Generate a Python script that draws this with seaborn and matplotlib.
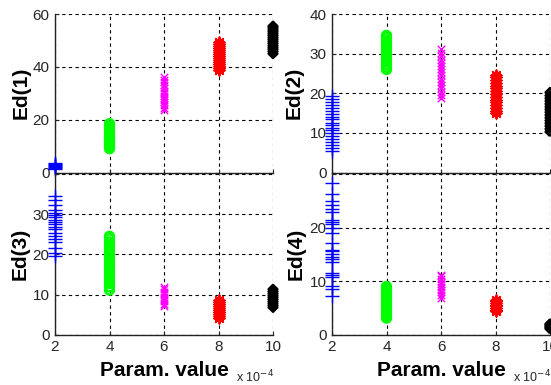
import matplotlib
matplotlib.use("Agg")
import matplotlib.pyplot as plt
import pandas as pd
import seaborn as sns

# ---------------- data ----------------
params = [2, 4, 6, 8, 10]
xtick_labels = ["2", "4", "6", "8", "10"]
panel_labels = ["Ed(1)", "Ed(2)", "Ed(3)", "Ed(4)"]

ed1_values = [
    [1.3, 1.7, 2.1, 2.5, 2.9, 3.3, 3.6],
    [9.0, 9.5, 10.2, 10.8, 11.5, 12.0, 12.6, 13.3, 14.0, 14.8, 15.5, 16.2, 17.0, 17.6, 18.5],
    [23.8, 24.6, 25.5, 26.8, 27.5, 28.3, 29.0, 30.2, 31.0, 32.1, 33.0, 34.2, 35.0, 36.2],
    [38.8, 39.5, 40.3, 41.0, 41.8, 42.5, 43.2, 44.0, 44.8, 45.5, 46.3, 47.0, 47.8, 48.6, 49.4],
    [45.0, 45.8, 46.6, 47.3, 48.0, 48.8, 49.5, 50.3, 51.0, 51.8, 52.5, 53.3, 54.0, 54.8, 55.4],
]
ed2_values = [
    [5.5, 6.3, 7.0, 7.8, 8.5, 9.2, 10.0, 10.6, 11.3, 12.0, 12.6, 13.4, 14.1, 14.8, 15.5, 16.2, 17.0, 17.8, 18.6, 19.4],
    [26.0, 26.6, 27.3, 28.0, 28.6, 29.3, 30.0, 30.7, 31.3, 32.0, 32.7, 33.3, 34.0, 34.6],
    [18.8, 19.6, 20.4, 21.3, 22.0, 22.8, 23.6, 24.5, 25.3, 26.0, 26.9, 27.7, 28.5, 29.3, 30.2, 31.2],
    [14.9, 15.6, 16.3, 17.0, 17.7, 18.4, 19.1, 19.8, 20.5, 21.2, 21.9, 22.6, 23.3, 24.0, 24.6],
    [10.3, 11.0, 11.7, 12.4, 13.1, 13.8, 14.5, 15.2, 15.9, 16.6, 17.3, 18.0, 18.7, 19.4, 20.2],
]
ed3_values = [
    [19.5, 20.3, 21.6, 23.0, 23.8, 24.5, 25.4, 26.2, 26.8, 27.5, 28.0, 28.6, 29.2, 29.8, 30.4, 31.0, 32.2, 33.5, 34.4],
    [11.1, 11.9, 12.7, 13.5, 14.3, 15.1, 15.9, 16.7, 17.5, 18.3, 19.1, 19.9, 20.7, 21.5, 22.3, 23.1, 23.9, 24.5],
    [7.1, 7.7, 8.3, 8.9, 9.5, 10.1, 10.7, 11.3, 11.9],
    [4.2, 4.7, 5.2, 5.7, 6.2, 6.7, 7.2, 7.7, 8.2, 8.6],
    [6.8, 7.3, 7.8, 8.3, 8.8, 9.3, 9.8, 10.3, 10.8, 11.3],
]
ed4_values = [
    [7.3, 8.5, 9.1, 10.8, 11.2, 11.6, 13.5, 14.1, 14.5, 15.0, 15.6, 15.9, 17.2, 18.9, 20.0, 20.6,
     21.0, 21.5, 22.9, 23.5, 24.3, 25.0, 26.2, 28.3],
    [3.1, 3.5, 3.9, 4.3, 4.7, 5.1, 5.5, 5.9, 6.3, 6.7, 7.1, 7.5, 7.9, 8.3, 8.7, 9.0],
    [6.9, 7.4, 7.9, 8.4, 8.9, 9.4, 9.9, 10.4, 10.9, 11.2],
    [4.4, 4.7, 5.0, 5.3, 5.6, 5.9, 6.2, 6.5],
    [1.1, 1.3, 1.5, 1.7, 1.9, 2.0],
]
all_values = [ed1_values, ed2_values, ed3_values, ed4_values]
ylims = [(0, 60), (0, 40), (0, 40), (0, 30)]
yticks = [[0, 20, 40, 60], [0, 10, 20, 30, 40], [0, 10, 20, 30, 40], [0, 10, 20, 30]]
ytick_labels = [["0", "20", "40", "60"], ["0", "10", "20", "30", "40"],
                ["0", "10", "20", "30", ""], ["0", "10", "20", ""]]

# ---------------- style ----------------
colors = ["#0000ff", "#00ff00", "#ff00ff", "#ff0000", "#000000"]
markers = ["+", "o", "x", (8, 2, 0), "D"]
sizes = [90, 40, 28, 55, 20]
widths = [1.0, 1.8, 1.0, 1.4, 1.8]
filled = [False, True, False, False, True]

sns.set_theme(style="white")
plt.rcParams["font.family"] = ["Liberation Sans", "DejaVu Sans"]
text_col = "#262626"

fig = plt.figure(figsize=(5.51, 3.85), dpi=100)
W, H = 551.0, 385.0
rects = [
    (55, 14, 218, 158.5),
    (332, 14, 218, 158.5),
    (55, 174, 218, 160.7),
    (332, 174, 218, 160.7),
]
ylabel_x = [-0.11, -0.13, -0.115, -0.12]

for i, (px, py, pw, ph) in enumerate(rects):
    ax = fig.add_axes([px / W, 1 - (py + ph) / H, pw / W, ph / H])
    vals = all_values[i]
    for j, p in enumerate(params):
        df = pd.DataFrame({"param": [p] * len(vals[j]), "value": vals[j]})
        kw = dict(color=colors[j], marker=markers[j], s=sizes[j], linewidth=widths[j],
                  clip_on=False, zorder=3, ax=ax, legend=False)
        if filled[j]:
            kw["facecolor"] = "none"
            kw["edgecolor"] = colors[j]
        sns.scatterplot(data=df, x="param", y="value", **kw)
    ax.set_xlim(2, 10)
    ax.set_ylim(*ylims[i])
    ax.set_xticks(params)
    ax.set_yticks(yticks[i])
    ax.set_yticklabels(ytick_labels[i])
    if i < 2:
        ax.set_xticklabels([])
        ax.set_xlabel("")
    else:
        ax.set_xticklabels(xtick_labels)
        ax.set_xlabel("Param. value", fontsize=15, fontweight="bold", labelpad=5, color="black")
    ax.set_ylabel(panel_labels[i], fontsize=15, fontweight="bold", color="black")
    ax.yaxis.set_label_coords(ylabel_x[i], 0.5)
    ax.grid(True, color="black", linestyle=(0, (3, 3)), linewidth=0.8)
    ax.set_axisbelow(True)
    for s in ["top", "right"]:
        ax.spines[s].set_visible(False)
    for s in ["left", "bottom"]:
        ax.spines[s].set_color("#222222")
        ax.spines[s].set_linewidth(1.0)
    ax.tick_params(direction="in", length=3, width=0.8, labelsize=11,
                   colors=text_col, left=True, bottom=True, pad=4)
    ax.patch.set_alpha(0)
    if i >= 2:
        fig.text((px + pw + 1) / W, 1 - 382 / H, r"x 10$^{-4}$", ha="right", va="baseline",
                 fontsize=9, color=text_col)

fig.savefig("out.png", dpi=100)
